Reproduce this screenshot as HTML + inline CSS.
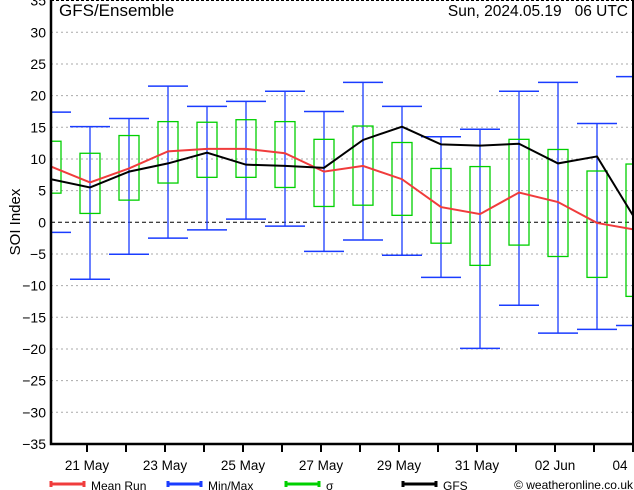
<!DOCTYPE html>
<html><head><meta charset="utf-8"><style>
body{margin:0;background:#fff;}
svg{display:block;font-family:"Liberation Sans","DejaVu Sans",sans-serif;}
</style></head><body>
<svg id="chart" width="634" height="490" viewBox="0 0 634 490" xmlns="http://www.w3.org/2000/svg"></svg>
<script>
const dates=["20 May","21 May","22 May","23 May","24 May","25 May","26 May","27 May","28 May","29 May","30 May","31 May","01 Jun","02 Jun","03 Jun","04 Jun"];
const meanRun=[8.8,6.3,8.5,11.2,11.6,11.6,10.9,8.0,8.9,6.8,2.4,1.3,4.7,3.2,-0.1,-1.2];
const gfs=[6.8,5.5,8.0,9.3,11.0,9.1,8.9,8.6,13.0,15.1,12.3,12.1,12.4,9.3,10.4,0.3];
const maxV=[17.4,15.1,16.4,21.5,18.3,19.1,20.7,17.5,22.1,18.3,13.5,14.7,20.7,22.1,15.6,23.0];
const minV=[-1.6,-9.0,-5.05,-2.5,-1.2,0.5,-0.6,-4.6,-2.8,-5.2,-8.7,-19.9,-13.1,-17.5,-16.9,-16.3];
const sigHi=[12.8,10.9,13.7,15.9,15.8,16.2,15.9,13.1,15.2,12.6,8.5,8.8,13.1,11.5,8.1,9.2];
const sigLo=[4.6,1.4,3.5,6.2,7.1,7.1,5.5,2.5,2.7,1.1,-3.3,-6.8,-3.6,-5.4,-8.7,-11.7];
const yTicks=[35,30,25,20,15,10,5,0,-5,-10,-15,-20,-25,-30,-35];
const xLabels=["21 May","23 May","25 May","27 May","29 May","31 May","02 Jun","04"];
const xLabelIdx=[1,3,5,7,9,11,13,15];

const NS="http://www.w3.org/2000/svg";
const svg=document.getElementById("chart");
const L=51,R=634,B=444;
const X=i=>L+39*i;
const Y=v=>222.3-v*6.333;
function mk(t,a,p){const e=document.createElementNS(NS,t);for(const k in a)e.setAttribute(k,a[k]);(p||svg).appendChild(e);return e;}
const clip=mk("clipPath",{id:"pc"});mk("rect",{x:L,y:0,width:R-L,height:B},clip);

yTicks.forEach(v=>{
  if(v!==0&&v!==35&&v!==-35){const g=mk("line",{x1:L,x2:R,y1:Y(v),y2:Y(v),stroke:"#aaa","stroke-dasharray":"2,3"});
  
  }
  const t=mk("text",{x:46,y:Y(v)+5,"text-anchor":"end","font-size":"14",fill:"#000"});t.textContent=(v<0?"\u2212"+(-v):v);
  
  
});
const zl=mk("line",{x1:L,x2:R,y1:Y(0),y2:Y(0),stroke:"#000","stroke-dasharray":"4,3"});


const tb=mk("line",{x1:L,x2:R,y1:0.5,y2:0.5,stroke:"#000","stroke-dasharray":"3,2"});



const g=mk("g",{"clip-path":"url(#pc)"});


dates.forEach((d,i)=>{
  const x=X(i);
  const w=mk("line",{x1:x,x2:x,y1:Y(maxV[i]),y2:Y(minV[i]),stroke:"#1a3cff","stroke-width":"1.3"},g);
  
  
  [maxV[i],minV[i]].forEach(v=>{const c=mk("line",{x1:x-20,x2:x+20,y1:Y(v),y2:Y(v),stroke:"#1a3cff","stroke-width":"1.5"},g);
    
    });
  const b=mk("rect",{x:x-10,y:Y(sigHi[i]),width:20,height:Y(sigLo[i])-Y(sigHi[i]),fill:"none",stroke:"#00d000","stroke-width":"1.3"},g);
  
  
});
const mp=mk("polyline",{points:meanRun.map((v,i)=>X(i)+","+Y(v)).join(" "),fill:"none",stroke:"#f03c3c","stroke-width":"2"},g);


const gp=mk("polyline",{points:gfs.map((v,i)=>X(i)+","+Y(v)).join(" "),fill:"none",stroke:"#000","stroke-width":"2"},g);



const ax=mk("path",{d:`M${L},0 V${B} H${R}`,fill:"none",stroke:"#000","stroke-width":"2.5"});


const rax=mk("line",{x1:633,x2:633,y1:0,y2:B,stroke:"#000","stroke-width":"2"});


dates.forEach((d,i)=>{if(i===0)return;const t=mk("line",{x1:X(i)-3,x2:X(i)-3,y1:B,y2:B+8,stroke:"#000","stroke-width":"2"});
  
  });
xLabels.forEach((s,k)=>{let x=X(xLabelIdx[k])-3;if(x>615)x=620;const t=mk("text",{x:x,y:470,"text-anchor":"middle","font-size":"13.5",fill:"#000"});t.textContent=s;
  
  });

const yl=mk("text",{x:0,y:0,transform:"translate(20,222) rotate(-90)","text-anchor":"middle","font-size":"15"});yl.textContent="SOI Index";


const tt=mk("text",{x:59,y:16,"font-size":"17"});tt.textContent="GFS/Ensemble";


const dt=mk("text",{x:628,y:16,"text-anchor":"end","font-size":"15.5",style:"white-space:pre"});dt.textContent="Sun, 2024.05.19   06 UTC";



const leg=[["Mean Run","#f03c3c",50],["Min/Max","#1a3cff",167],["\u03c3","#00d000",285],["GFS","#000",402]];
leg.forEach(([s,c,x])=>{
  const l=mk("path",{d:`M${x},484 H${x+35} M${x+1},481 V487 M${x+34},481 V487`,stroke:c,"stroke-width":"3"});
  
  
  const t=mk("text",{x:x+41,y:490,"font-size":"12"});t.textContent=s;
  
  
});
const cp=mk("text",{x:633,y:489,"text-anchor":"end","font-size":"12"});cp.textContent="\u00a9 weatheronline.co.uk";


</script>
</body></html>
